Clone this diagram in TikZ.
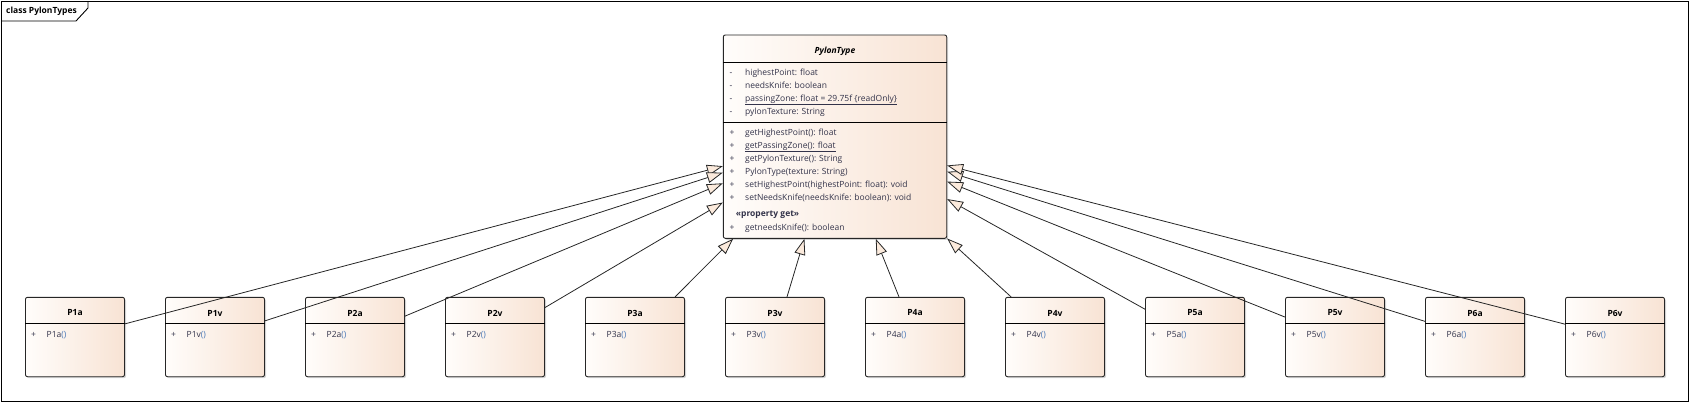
\documentclass[tikz,border=0pt]{standalone}
\usepackage{fontspec}
\setmainfont{Open Sans}
\usetikzlibrary{arrows.meta,shadows,positioning}
\definecolor{clsL}{HTML}{FFFDFB}
\definecolor{clsR}{HTML}{F8E3D4}
\definecolor{testo}{HTML}{33334A}
\definecolor{tonde}{HTML}{4A78B8}
\definecolor{punta}{HTML}{FBEADC}
\tikzset{
  classe/.style={draw=black!85, line width=0.9pt, rounded corners=2pt,
    left color=clsL, right color=clsR,
    drop shadow={shadow xshift=1.5pt, shadow yshift=-1.5pt, opacity=.35},
    minimum width=99pt, minimum height=79.4pt, inner sep=0pt},
  titolo/.style={font=\fontsize{8.5}{10}\selectfont\bfseries, inner sep=0pt},
  membro/.style={anchor=west, font=\fontsize{8.5}{10}\selectfont, text=testo,
    inner sep=0pt, text height=6.5pt, text depth=1.8pt},
  gen/.style={-{Triangle[length=16pt,width=11pt,fill=punta]}, line width=0.8pt, draw=black!85}
}
\begin{document}
\begin{tikzpicture}[x=1pt,y=-1pt]
  \useasboundingbox (0,0) rectangle (1690,402);
  % cornice del diagramma
  \draw[line width=0.9pt] (1,1) rectangle (1688,401);
  \draw[line width=0.9pt] (1,21) -- (76,21) -- (88,8) -- (88,1);
  \node[titolo, anchor=west] (cornice) at (6,11) {class PylonTypes};

  % classe base
  \node[classe, minimum width=223.4pt, minimum height=203.3pt] (pylon) at (835,136.65) {};
  \node[titolo, font=\fontsize{8.5}{10}\selectfont\bfseries\itshape] (pylonT) at (835,51) {PylonType};
  \draw[line width=0.9pt] (pylon.west |- 0,62.3) -- (pylon.east |- 0,62.3);
  \draw[line width=0.9pt] (pylon.west |- 0,122.3) -- (pylon.east |- 0,122.3);
  \foreach \y/\riga [count=\k] in {72.7/highestPoint: float, 85.7/needsKnife: boolean,
      98.7/\underline{passingZone: float = 29.75f \{readOnly\}}, 111.7/pylonTexture: String} {
    \node[membro] (a\k) at (729.3,\y) {-};
    \node[membro] (at\k) at (745,\y) {\riga};
  }
  \foreach \y/\riga [count=\k] in {132.7/getHighestPoint(): float, 145.7/\underline{getPassingZone(): float},
      158.7/getPylonTexture(): String, 171.7/PylonType(texture: String),
      184.7/setHighestPoint(highestPoint: float): void,
      197.7/setNeedsKnife(needsKnife: boolean): void, 227.7/getneedsKnife(): boolean} {
    \node[membro] (m\k) at (729.3,\y) {+};
    \node[membro] (mt\k) at (745,\y) {\riga};
  }
  \node[membro, font=\fontsize{8.5}{10}\selectfont\bfseries] (prop) at (735.7,214.3) {«property get»};

  % sottoclassi
  \foreach \n [count=\i from 0] in {P1a,P1v,P2a,P2v,P3a,P3v,P4a,P4v,P5a,P5v,P6a,P6v} {
    \node[classe] (\n) at ({75+140*\i},337) {};
    \node[titolo] (\n-t) at ({75+140*\i},313) {\n};
    \draw[line width=0.9pt] ([yshift=-26.7pt]\n.north west) -- ([yshift=-26.7pt]\n.north east);
    \node[membro] (\n-p) at ({31+140*\i},335) {+};
    \node[membro] (\n-m) at ({46.5+140*\i},335) {\n\textcolor{tonde}{()}};
  }
  % generalizzazioni
  \foreach \n in {P1a,P1v,P2a,P2v,P3a,P3v,P4a,P4v,P5a,P5v,P6a,P6v}
    \draw[gen] (\n) -- (pylon);
\end{tikzpicture}
\end{document}
